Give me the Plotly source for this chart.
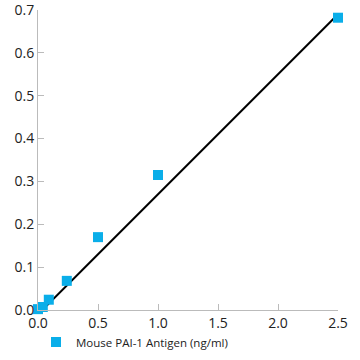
import plotly.graph_objects as go

# Standard curve data
conc = [0, 0.04, 0.09, 0.24, 0.5, 1.0, 2.5]
od = [0.002, 0.007, 0.024, 0.068, 0.17, 0.315, 0.682]
series_name = "Mouse PAI-1 Antigen (ng/ml)"

# Fitted line endpoints
fit_x = [0.036, 2.5]
fit_y = [0.0, 0.69]

x_ticks = [0, 0.5, 1.0, 1.5, 2.0, 2.5]
x_tick_text = ["0.0", "0.5", "1.0", "1.5", "2.0", "2.5"]
y_ticks = [0, 0.1, 0.2, 0.3, 0.4, 0.5, 0.6, 0.7]
y_tick_text = ["0.0", "0.1", "0.2", "0.3", "0.4", "0.5", "0.6", "0.7"]

fig = go.Figure()
fig.add_trace(go.Scatter(
    x=fit_x, y=fit_y, mode="lines",
    line=dict(color="black", width=2),
    showlegend=False, hoverinfo="skip", cliponaxis=False,
))
fig.add_trace(go.Scatter(
    x=conc, y=od, mode="markers", name=series_name,
    marker=dict(symbol="square", size=10, color="#0aaee9"),
    cliponaxis=False,
))

font = dict(family="Open Sans, sans-serif", size=14, color="#222222")

fig.update_layout(
    width=360, height=360,
    margin=dict(l=38, r=22, t=10, b=50),
    plot_bgcolor="white", paper_bgcolor="white",
    font=font,
    showlegend=True,
    legend=dict(
        orientation="h", xref="container", yref="container",
        x=0.1, xanchor="left", y=0.05, yanchor="middle",
        font=dict(family="Open Sans, sans-serif", size=11.5, color="#222222"),
        bgcolor="rgba(0,0,0,0)",
    ),
    xaxis=dict(
        range=[0, 2.5], tickvals=x_ticks, ticktext=x_tick_text, automargin=False,
        ticklabeloverflow="allow",
        showgrid=False, zeroline=False, showline=True, linecolor="#bbbbbb",
        linewidth=1, ticks="inside", ticklen=6, tickcolor="#bbbbbb",
    ),
    yaxis=dict(
        range=[0, 0.7], tickvals=y_ticks, ticktext=y_tick_text, automargin=False,
        ticklabeloverflow="allow",
        showgrid=False, zeroline=False, showline=True, linecolor="#bbbbbb",
        linewidth=1, ticks="inside", ticklen=6, tickcolor="#bbbbbb",
    ),
)

fig.write_html(
    "out.html",
    config={"displayModeBar": False},
    post_script="document.body.style.margin='0';",
)
